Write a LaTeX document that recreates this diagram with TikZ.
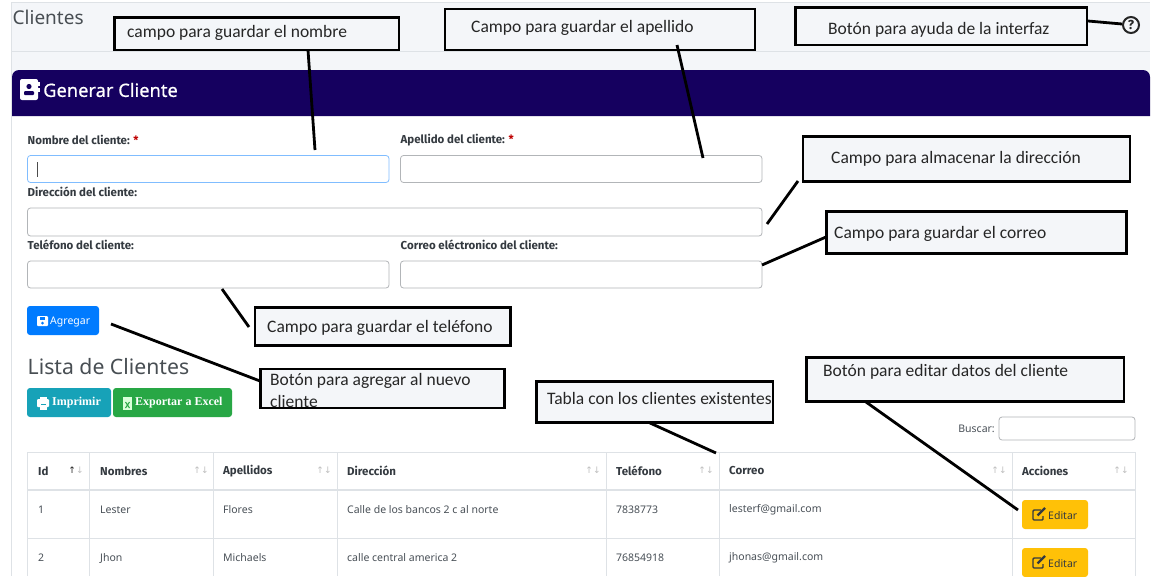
\documentclass[tikz,border=0pt]{standalone}
\usepackage{fontspec}
\setmainfont{Noto Sans}
\newfontfamily\calloutfont{Carlito}
\newfontfamily\serifbtn{Liberation Serif}
\newfontfamily\symfont{DejaVu Sans}
\newfontfamily\boldui{Fira Sans}
\newfontfamily\titleui{Noto Sans}[FakeBold=0.6]
\usetikzlibrary{positioning}
\definecolor{pagebg}{HTML}{F4F6F9}
\definecolor{headbg}{HTML}{15005F}
\definecolor{gridcol}{HTML}{DEE2E6}
\definecolor{inkcol}{HTML}{495057}
\definecolor{darkcol}{HTML}{343A40}
\definecolor{focuscol}{HTML}{80BDFF}
\definecolor{agregarcol}{HTML}{007BFF}
\definecolor{imprimircol}{HTML}{17A2B8}
\definecolor{excelcol}{HTML}{28A745}
\definecolor{editarcol}{HTML}{FFC107}
\tikzset{
	callout/.style={draw=black, line width=2.7pt, fill=pagebg},
	callouttext/.style={font=\calloutfont\fontsize{17.5}{22}\selectfont, text=black!85, anchor=west, inner sep=0pt, align=left, yshift=-1pt},
	pointer/.style={line width=2.8pt, black},
	fieldbox/.style={draw=#1, line width=0.8pt, fill=white, rounded corners=3pt},
	fieldbox/.default=gridcol!80!black,
	fieldlabel/.style={font=\boldui\bfseries\fontsize{11.5}{12}\selectfont, text=darkcol, anchor=west, inner sep=0pt, yshift=-1pt},
	headtext/.style={font=\boldui\bfseries\fontsize{11.5}{12}\selectfont, text=darkcol, anchor=west, inner sep=0pt, yshift=-1pt},
	celltext/.style={font=\fontsize{10.5}{12}\selectfont, text=inkcol, anchor=west, inner sep=0pt, yshift=-1pt},
	sortmark/.style={font=\symfont\fontsize{9}{10}\selectfont, text=black!25, inner sep=0pt},
	btntext/.style={font=\fontsize{10.5}{12}\selectfont, text=white, anchor=west, inner sep=0pt, yshift=-1pt},
	serifbtntext/.style={font=\serifbtn\bfseries\fontsize{12}{14}\selectfont, text=white, anchor=west, inner sep=0pt},
}
\begin{document}
\begin{tikzpicture}[x=1pt, y=-1pt]
	\useasboundingbox (0,0) rectangle (1173,576);
	\clip (0,0) rectangle (1173,576);
	% page
	\fill[white] (0,0) rectangle (1173,576);
	\fill[pagebg] (12,3) rectangle (1150,576);
	\draw[gridcol, line width=1pt] (11.5,2) -- (1150,2);
	\draw[gridcol, line width=1pt] (11.5,2) -- (11.5,576);
	\draw[gridcol, line width=0.8pt] (12,51) -- (1150,51);
	\node[anchor=west, inner sep=0pt, font=\fontsize{19}{22}\selectfont, text=darkcol!90] (pagetitle) at (12.5,17) {Clientes};
	% card
	\fill[white] (12,110) rectangle (1150,576);
	\fill[headbg] (12,116) {[rounded corners=7pt] -- (12,70) -- (1150,70)} -- (1150,116) -- cycle;
	\fill[white, rounded corners=2pt] (20,79) rectangle (38,100);
	\fill[headbg] (29,86.5) circle (2.6);
	\fill[headbg, rounded corners=1pt] (24,91) rectangle (34,95);
	\fill[white] (38.2,82) rectangle (40,86);
	\fill[white] (38.2,88) rectangle (40,92);
	\node[anchor=west, inner sep=0pt, font=\titleui\fontsize{18.3}{22}\selectfont, text=white] (cardtitle) at (43,90) {Generar Cliente};
	% fields
	\node[fieldlabel] (lblnombre) at (27.5,139) {Nombre del cliente: \textcolor{red!75!black}{*}};
	\node[fieldlabel] (lblapellido) at (400.5,139) {Apellido del cliente: \textcolor{red!75!black}{*}};
	\node[fieldlabel] (lbldireccion) at (27.5,191) {Dirección del cliente:};
	\node[fieldlabel] (lbltelefono) at (27.5,244) {Teléfono del cliente:};
	\node[fieldlabel] (lblcorreo) at (400.5,244) {Correo eléctronico del cliente:};
	\draw[fieldbox=focuscol] (27.5,155.5) rectangle (389,182.5);
	\draw[black!70, line width=0.7pt] (37,162) -- (37,177);
	\draw[fieldbox] (400.5,155.5) rectangle (762,182.5);
	\draw[fieldbox] (27.5,208) rectangle (762,236);
	\draw[fieldbox] (27.5,261) rectangle (389,288);
	\draw[fieldbox] (400.5,261) rectangle (762,288);
	% buttons
	\fill[agregarcol, rounded corners=3pt] (27,306) rectangle (99,335);
	\fill[white, rounded corners=1pt] (37,316) rectangle (48,326);
	\fill[agregarcol] (39.5,316.8) rectangle (45,319.5);
	\fill[agregarcol] (42.5,323) circle (1.5);
	\node[btntext] (btnagregar) at (50,321) {Agregar};
	\node[anchor=west, inner sep=0pt, font=\fontsize{21.2}{26}\selectfont, text=darkcol!90] (listatitle) at (27.5,367) {Lista de Clientes};
	\fill[imprimircol, rounded corners=3pt] (27,388) rectangle (111,417);
	\fill[white, rounded corners=1pt] (37,399) rectangle (49,407);
	\fill[white] (39.5,396.5) rectangle (46.5,399.5);
	\fill[white] (39.5,406) rectangle (46.5,409.5);
	\fill[imprimircol] (40.5,404) rectangle (45.5,405);
	\node[serifbtntext] (btnimprimir) at (52,403) {Imprimir};
	\fill[excelcol, rounded corners=3pt] (113,388) rectangle (232,417);
	\fill[white!85!green] (123,397) rectangle (132,410);
	\draw[excelcol, line width=1pt] (125.5,402) -- (129.5,408) (129.5,402) -- (125.5,408);
	\node[serifbtntext] (btnexcel) at (135,403) {Exportar a Excel};
	\node[celltext, anchor=east, text=inkcol] (lblbuscar) at (995,428) {Buscar:};
	\draw[fieldbox] (999,417) rectangle (1135,440);
	% table
	\fill[white] (27,452) rectangle (1135,576);
	\draw[gridcol, line width=1pt] (27,452.5) -- (1135,452.5);
	\draw[gridcol, line width=2pt] (27,490) -- (1135,490);
	\draw[gridcol, line width=1pt] (27,538.5) -- (1135,538.5);
	\foreach \x in {27.5,89,213,337,606.5,719.5,1012.5,1135}
		\draw[gridcol, line width=0.9pt] (\x,452) -- (\x,576);
	\node[headtext] (hid) at (38,470) {Id};
	\node[headtext] (hnombres) at (100,470) {Nombres};
	\node[headtext] (hapellidos) at (223,470) {Apellidos};
	\node[headtext] (hdireccion) at (347,470) {Dirección};
	\node[headtext] (htelefono) at (616,470) {Teléfono};
	\node[headtext] (hcorreo) at (729,470) {Correo};
	\node[headtext] (hacciones) at (1022,470) {Acciones};
	\foreach \x in {201,324,593,706,999,1121}
		\node[sortmark] at (\x,470) {↑↓};
	\node[sortmark] (sortid) at (76,470) {\textcolor{black!85}{↑}↓};
	\node[celltext] (idone) at (38,509) {1};
	\node[celltext] (nomone) at (100,509) {Lester};
	\node[celltext] (apeone) at (223,509) {Flores};
	\node[celltext] (dirone) at (347,509) {Calle de los bancos 2 c al norte};
	\node[celltext] (telone) at (616,509) {7838773};
	\node[celltext] (corone) at (729,509) {lesterf@gmail.com};
	\node[celltext] (idtwo) at (38,557) {2};
	\node[celltext] (nomtwo) at (100,557) {Jhon};
	\node[celltext] (apetwo) at (223,557) {Michaels};
	\node[celltext] (dirtwo) at (347,557) {calle central america 2};
	\node[celltext] (teltwo) at (616,557) {76854918};
	\node[celltext] (cortwo) at (729,557) {jhonas@gmail.com};
	\foreach \y/\n in {500/editone,548/edittwo} {
		\fill[editarcol, rounded corners=3pt] (1022,\y) rectangle (1088,\y+29);
		\draw[darkcol, line width=1.4pt, rounded corners=1pt] (1041,\y+10) -- (1033,\y+10) -- (1033,\y+20) -- (1043,\y+20) -- (1043,\y+16);
		\draw[darkcol, line width=2.2pt] (1037.5,\y+15.5) -- (1045,\y+8);
		\node[celltext, text=darkcol] (\n) at (1048,\y+14.5) {Editar};
	}
	% help button
	\draw[black!85, line width=2pt] (1131,25) circle (8);
	\node[inner sep=0pt, font=\boldui\bfseries\fontsize{13}{13}\selectfont, text=black!85] (helpmark) at (1131,25) {?};
	% callouts
	\draw[callout] (114.5,17.5) rectangle (399,50);
	\node[callouttext] (txtnombre) at (127,32) {campo para guardar el nombre};
	\draw[callout] (445,9) rectangle (755,50);
	\node[callouttext] (txtapellido) at (471,27) {Campo para guardar el apellido};
	\draw[callout] (795.5,7.5) rectangle (1087,45);
	\node[callouttext] (txtayuda) at (828,29) {Botón para ayuda de la interfaz};
	\draw[callout] (803,136.5) rectangle (1130,181.5);
	\node[callouttext] (txtdireccion) at (831,158) {Campo para almacenar la dirección};
	\draw[callout] (826.5,211.5) rectangle (1126.5,253.5);
	\node[callouttext] (txtcorreo) at (834,233) {Campo para guardar el correo};
	\draw[callout] (255,307.5) rectangle (510.5,345.5);
	\node[callouttext] (txttelefono) at (267,327) {Campo para guardar el teléfono};
	\draw[callout] (260.5,369) rectangle (504.5,408);
	\node[callouttext] (txtagregar) at (270,389) {Botón para agregar al nuevo\\cliente};
	\draw[callout] (536.5,381.5) rectangle (773,422.5);
	\node[callouttext] (txttabla) at (547,397) {Tabla con los clientes existentes};
	\draw[callout] (806.5,357.5) rectangle (1124,401.5);
	\node[callouttext] (txteditar) at (823,371) {Botón para editar datos del cliente};
	% pointers
	\coordinate (endnombre) at (315,150);
	\coordinate (startnombre) at (308,50);
	\coordinate (endapellido) at (703,158);
	\coordinate (startapellido) at (677,45);
	\coordinate (enddireccion) at (767,224);
	\coordinate (startdireccion) at (798,181);
	\coordinate (endcorreo) at (762,265);
	\coordinate (startcorreo) at (826,237);
	\coordinate (endtelefono) at (249,327);
	\coordinate (starttelefono) at (222,289);
	\coordinate (endagregar) at (260,381);
	\coordinate (startagregar) at (111,324);
	\coordinate (endtabla) at (716,453);
	\coordinate (starttabla) at (650,423);
	\coordinate (endeditar) at (1018,510);
	\coordinate (starteditar) at (866,402);
	\coordinate (endayuda) at (1122,24);
	\coordinate (startayuda) at (1088,21);
	\foreach \n in {nombre,apellido,direccion,correo,telefono,agregar,tabla,editar,ayuda}
		\draw[pointer] (start\n) -- (end\n);
\end{tikzpicture}
\end{document}
